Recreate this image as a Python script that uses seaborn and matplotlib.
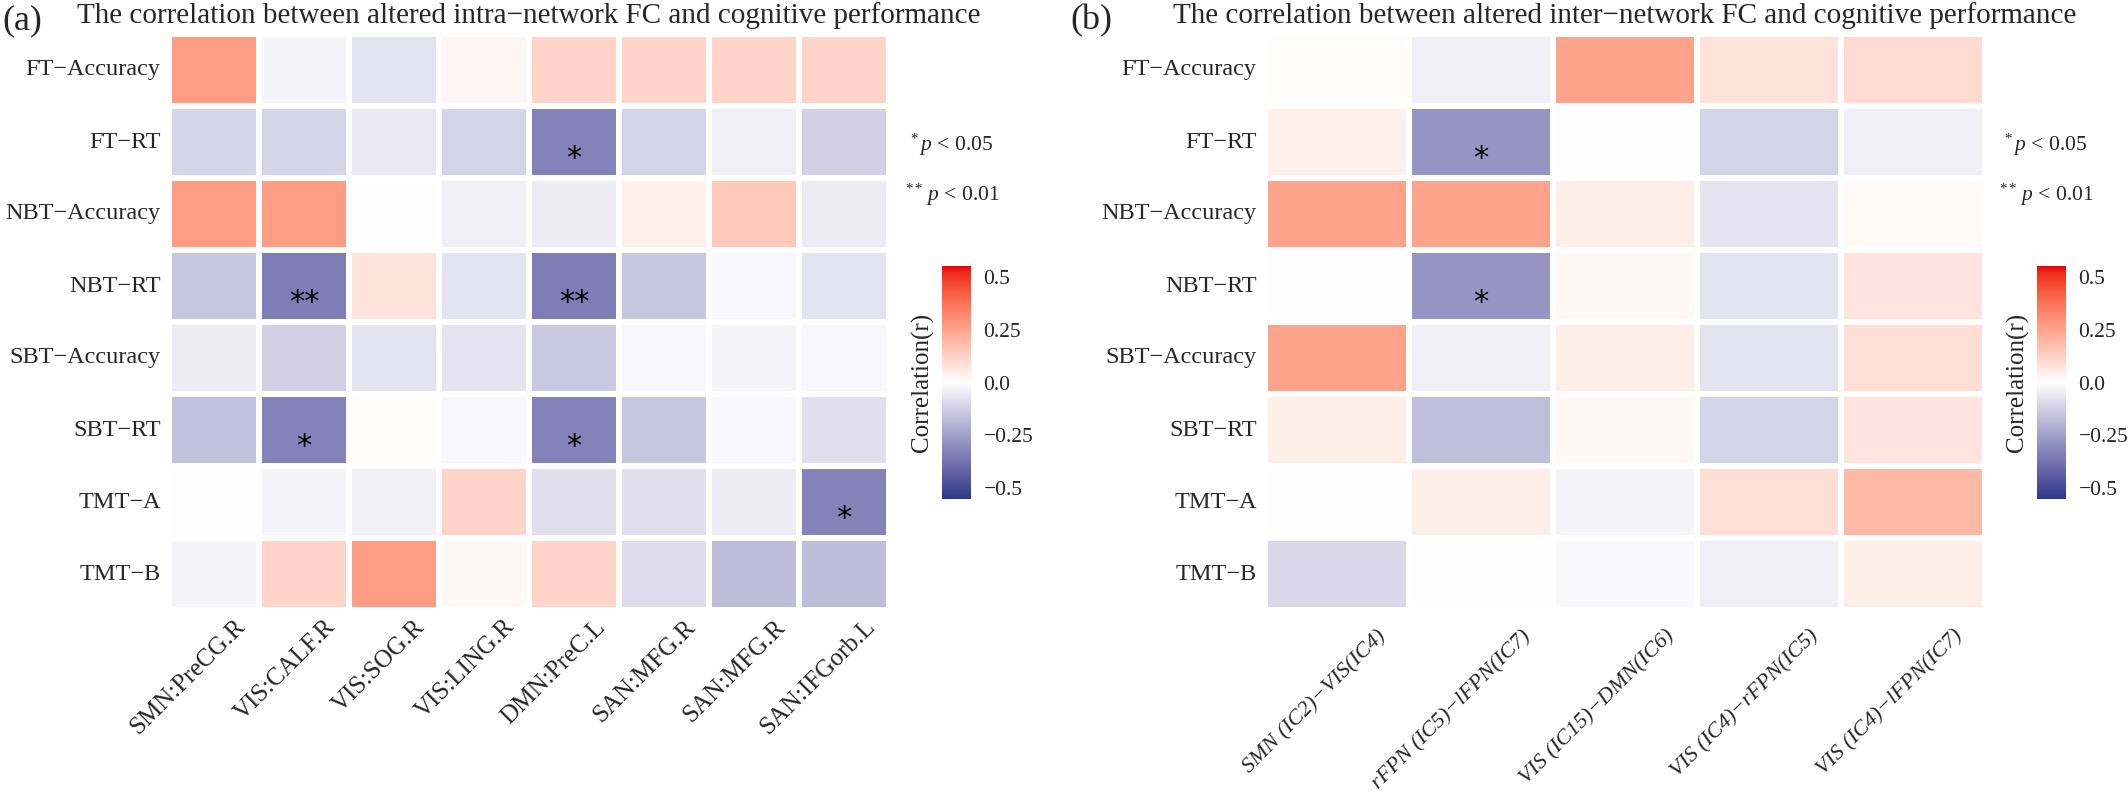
import numpy as np
import pandas as pd
import matplotlib
matplotlib.use("Agg")
import matplotlib.pyplot as plt
import matplotlib.transforms as mtransforms
from matplotlib.colors import ListedColormap
import seaborn as sns

# ---- data -------------------------------------------------------------
tasks = ["FT−Accuracy", "FT−RT", "NBT−Accuracy", "NBT−RT",
         "SBT−Accuracy", "SBT−RT", "TMT−A", "TMT−B"]

intra_regions = ["SMN:PreCG.R", "VIS:CALF.R", "VIS:SOG.R", "VIS:LING.R",
                 "DMN:PreC.L", "SAN:MFG.R", "SAN:MFG.R", "SAN:IFGorb.L"]

inter_pairs = ["SMN (IC2)−VIS(IC4)", "rFPN (IC5)−lFPN(IC7)",
               "VIS (IC15)−DMN(IC6)", "VIS (IC4)−rFPN(IC5)",
               "VIS (IC4)−lFPN(IC7)"]

intra_r = [
    [0.27, -0.03, -0.07, 0.03, 0.12, 0.12, 0.12, 0.12],
    [-0.11, -0.11, -0.06, -0.11, -0.33, -0.11, -0.04, -0.12],
    [0.27, 0.27, 0.00, -0.04, -0.05, 0.04, 0.15, -0.05],
    [-0.15, -0.34, 0.08, -0.07, -0.34, -0.15, -0.02, -0.07],
    [-0.05, -0.12, -0.07, -0.065, -0.14, -0.02, -0.03, -0.02],
    [-0.16, -0.33, 0.005, -0.02, -0.33, -0.15, -0.02, -0.08],
    [-0.005, -0.03, -0.04, 0.12, -0.08, -0.08, -0.045, -0.33],
    [-0.03, 0.12, 0.27, 0.02, 0.12, -0.09, -0.17, -0.17],
]
intra_sig = [
    ["", "", "", "", "", "", "", ""],
    ["", "", "", "", "*", "", "", ""],
    ["", "", "", "", "", "", "", ""],
    ["", "**", "", "", "**", "", "", ""],
    ["", "", "", "", "", "", "", ""],
    ["", "*", "", "", "*", "", "", ""],
    ["", "", "", "", "", "", "", "*"],
    ["", "", "", "", "", "", "", ""],
]

inter_r = [
    [0.005, -0.04, 0.25, 0.08, 0.10],
    [0.04, -0.28, 0.00, -0.11, -0.04],
    [0.25, 0.25, 0.05, -0.065, 0.015],
    [0.003, -0.28, 0.02, -0.07, 0.07],
    [0.25, -0.04, 0.05, -0.07, 0.09],
    [0.05, -0.165, 0.02, -0.11, 0.07],
    [0.00, 0.05, -0.03, 0.09, 0.19],
    [-0.10, 0.00, -0.015, -0.04, 0.05],
]
inter_sig = [
    ["", "", "", "", ""],
    ["", "*", "", "", ""],
    ["", "", "", "", ""],
    ["", "*", "", "", ""],
    ["", "", "", "", ""],
    ["", "", "", "", ""],
    ["", "", "", "", ""],
    ["", "", "", "", ""],
]

cbar_ticks = [-0.5, -0.25, 0.0, 0.25, 0.5]
cbar_labels = ["−0.5", "−0.25", "0.0", "0.25", "0.5"]


# ---- colour scale (low - white - high, interpolated in Lab like ggplot) --
def srgb_to_lab(rgb):
    c = np.asarray(rgb, dtype=float)
    lin = np.where(c <= 0.04045, c / 12.92, ((c + 0.055) / 1.055) ** 2.4)
    m = np.array([[0.4124, 0.3576, 0.1805],
                  [0.2126, 0.7152, 0.0722],
                  [0.0193, 0.1192, 0.9505]])
    xyz = m @ lin / np.array([0.95047, 1.0, 1.08883])
    f = np.where(xyz > 0.008856, np.cbrt(xyz), 7.787 * xyz + 16 / 116)
    return np.array([116 * f[1] - 16, 500 * (f[0] - f[1]), 200 * (f[1] - f[2])])


def lab_to_srgb(lab):
    L, a, b = lab
    fy = (L + 16) / 116
    f = np.array([fy + a / 500, fy, fy - b / 200])
    xyz = np.where(f ** 3 > 0.008856, f ** 3, (f - 16 / 116) / 7.787)
    xyz = xyz * np.array([0.95047, 1.0, 1.08883])
    minv = np.array([[3.2406, -1.5372, -0.4986],
                     [-0.9689, 1.8758, 0.0415],
                     [0.0557, -0.2040, 1.0570]])
    lin = np.clip(minv @ xyz, 0, 1)
    return np.where(lin <= 0.0031308, 12.92 * lin, 1.055 * lin ** (1 / 2.4) - 0.055)


def gradient2(low, mid, high, n=256):
    lo, mi, hi = (srgb_to_lab(matplotlib.colors.to_rgb(c)) for c in (low, mid, high))
    cols = []
    for v in np.linspace(0, 1, n):
        if v < 0.5:
            t = (0.5 - v) / 0.5
            lab = mi + t * (lo - mi)
        else:
            t = (v - 0.5) / 0.5
            lab = mi + t * (hi - mi)
        cols.append(np.clip(lab_to_srgb(lab), 0, 1))
    return ListedColormap(cols)


cmap = gradient2("#2B398B", "#FFFFFF", "#E8000B")

# ---- figure -----------------------------------------------------------
sns.set_style("white")
plt.rcParams["font.family"] = ["Liberation Serif", "DejaVu Serif"]
plt.rcParams["mathtext.fontset"] = "custom"
plt.rcParams["mathtext.rm"] = "Liberation Serif"
plt.rcParams["mathtext.it"] = "Liberation Serif:italic"

W, H = 2128, 792
fig = plt.figure(figsize=(W / 100, H / 100), dpi=100)


def px_axes(x0, y0, x1, y1):
    return fig.add_axes([x0 / W, 1 - y1 / H, (x1 - x0) / W, (y1 - y0) / H])


def draw_panel(ax, cax, values, sig, cols, title, xlab_size, xlab_italic, dx, xpad):
    df = pd.DataFrame(values, index=tasks, columns=cols)
    sns.heatmap(df, ax=ax, cmap=cmap, vmin=-0.55, vmax=0.55,
                linewidths=3.2, linecolor="white", cbar_ax=cax,
                cbar_kws={"ticks": cbar_ticks})
    for i, row in enumerate(sig):
        for j, s in enumerate(row):
            if s:
                ax.text(j + 0.5, i + 0.85, s, ha="center", va="baseline",
                        fontsize=22, family="DejaVu Sans", color="black")
    ax.set_xlabel("")
    ax.set_ylabel("")
    ax.tick_params(axis="both", length=0)
    ax.tick_params(axis="y", pad=6)
    ax.tick_params(axis="x", pad=xpad)
    ax.set_yticklabels(tasks, rotation=0, fontsize=17.5)
    ax.set_xticklabels(cols, rotation=45, ha="right", va="top",
                       rotation_mode="anchor", fontsize=xlab_size,
                       fontstyle="italic" if xlab_italic else "normal")
    shift = mtransforms.ScaledTranslation(dx / 100, 0, fig.dpi_scale_trans)
    for lab in ax.get_xticklabels():
        lab.set_transform(lab.get_transform() + shift)
    ax.set_title(title, fontsize=21, pad=8)

    cbar = ax.collections[0].colorbar
    cbar.set_ticks(cbar_ticks)
    cbar.set_ticklabels(cbar_labels)
    cbar.outline.set_visible(False)
    cax.tick_params(direction="in", color="white", length=5, width=1.2,
                    left=True, right=True, labelsize=15.5, pad=9)
    cax.yaxis.set_label_position("left")
    cbar.set_label("Correlation(r)", fontsize=18, labelpad=6)


ax_a = px_axes(169, 34, 889, 610)
cax_a = px_axes(942, 266, 971, 499)
draw_panel(ax_a, cax_a, intra_r, intra_sig, intra_regions,
           "The correlation between altered intra−network FC and cognitive performance",
           18, False, 20, 4)

ax_b = px_axes(1265, 34, 1985, 610)
cax_b = px_axes(2037, 266, 2066, 499)
draw_panel(ax_b, cax_b, inter_r, inter_sig, inter_pairs,
           "The correlation between altered inter−network FC and cognitive performance",
           16, True, 40, 12)

fig.text(2 / W, 1 - 29 / H, "(a)", fontsize=26, va="baseline", ha="left")
fig.text(1070 / W, 1 - 29 / H, "(b)", fontsize=26, va="baseline", ha="left")

for x0 in (910, 2004):
    fig.text(x0 / W, 1 - 145 / H, r"$^{*}\,p$ < 0.05", fontsize=15.5, va="center", ha="left")
    fig.text((x0 - 5) / W, 1 - 195 / H, r"$^{**}\,p$ < 0.01", fontsize=15.5, va="center", ha="left")

fig.savefig("out.png", dpi=100, facecolor="white")
